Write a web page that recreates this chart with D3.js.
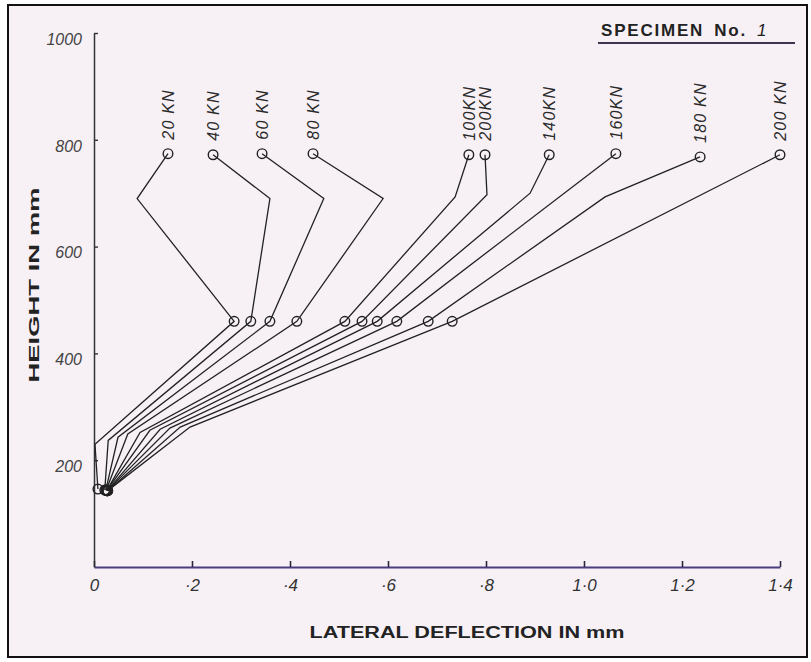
<!DOCTYPE html>
<html lang="en">
<head>
  <meta charset="UTF-8">
  <title>Specimen No. 1 - lateral deflection</title>
  <script src="https://d3js.org/d3.v7.min.js"></script>
  <style>
    body { margin: 0; background: #fff; }
    text { font-family: "Liberation Sans", Arial, sans-serif; }
  </style>
</head>
<body>
  <svg id="chart"></svg>
  <script>
    // load labels as written on the sheet (the 6th one really reads "200KN")
    const loads = ["20 KN", "40 KN", "60 KN", "80 KN", "100KN", "200KN", "140KN", "160KN", "180 KN", "200 KN"];

    // each profile: [deflection mm, height mm] from the base gauge up to the top gauge
    const profiles = [
      [[0.008, 146], [0.002, 230], [0.286, 460], [0.088, 690], [0.151, 774]],
      [[0.022, 144], [0.029, 237], [0.320, 460], [0.359, 690], [0.243, 772]],
      [[0.024, 144], [0.049, 243], [0.359, 460], [0.469, 690], [0.343, 774]],
      [[0.025, 144], [0.069, 249], [0.414, 460], [0.590, 690], [0.447, 774]],
      [[0.026, 143], [0.094, 252], [0.512, 460], [0.737, 693], [0.765, 772]],
      [[0.026, 143], [0.114, 256], [0.547, 460], [0.802, 697], [0.798, 772]],
      [[0.027, 143], [0.135, 258], [0.578, 460], [0.890, 700], [0.929, 772]],
      [[0.027, 143], [0.155, 260], [0.618, 460], [1.065, 774]],
      [[0.028, 143], [0.176, 262], [0.682, 460], [1.043, 693], [1.237, 768]],
      [[0.028, 143], [0.196, 262], [0.731, 460], [1.400, 772]]
    ];

    // the gauge readings drawn with a circle: base, mid-height, top
    const gaugeHeights = [143, 144, 146, 460, 768, 772, 774];

    const xTicks = [0, 0.2, 0.4, 0.6, 0.8, 1.0, 1.2, 1.4];
    const xTickLabels = ["0", "·2", "·4", "·6", "·8", "1·0", "1·2", "1·4"];
    const yTicks = [200, 400, 600, 800, 1000];
    const yTickLabels = ["200", "400", "600", "800", "1000"];

    const width = 811, height = 662;

    const svg = d3.select("#chart")
      .attr("width", width)
      .attr("height", height);

    // paper + frame
    svg.append("rect")
      .attr("x", 8).attr("y", 5)
      .attr("width", 799).attr("height", 652)
      .attr("fill", "#f7f1f6")
      .attr("stroke", "#111")
      .attr("stroke-width", 2);

    const x = d3.scaleLinear().domain([0, 1.4]).range([94, 780]);
    const y = d3.scaleLinear().domain([0, 1000]).range([567, 33]);

    const xAxis = d3.axisBottom(x)
      .tickValues(xTicks)
      .tickFormat((d, i) => xTickLabels[i])
      .tickSizeInner(-6)
      .tickSizeOuter(0)
      .tickPadding(12);

    const yAxis = d3.axisLeft(y)
      .tickValues(yTicks)
      .tickFormat((d, i) => yTickLabels[i])
      .tickSizeInner(-4)
      .tickSizeOuter(0)
      .tickPadding(12);

    const gx = svg.append("g")
      .attr("transform", `translate(0,${y(0)})`)
      .call(xAxis);
    gx.select(".domain").attr("stroke", "#4a3d7e").attr("stroke-width", 2);
    gx.selectAll(".tick line").attr("stroke", "#2c2640").attr("stroke-width", 1.6);
    gx.selectAll(".tick text")
      .attr("font-size", 17)
      .attr("font-style", "italic")
      .attr("fill", "#333");

    const gy = svg.append("g")
      .attr("transform", `translate(${x(0)},0)`)
      .call(yAxis);
    gy.select(".domain").attr("stroke", "#333").attr("stroke-width", 1.5);
    gy.selectAll(".tick line").attr("stroke", "#333").attr("stroke-width", 1.4);
    gy.selectAll(".tick text")
      .attr("font-size", 16)
      .attr("font-style", "italic")
      .attr("fill", "#444")
      .attr("dy", "0.7em");

    // profiles
    const line = d3.line().x(d => x(d[0])).y(d => y(d[1]));

    svg.append("g")
      .selectAll("path")
      .data(profiles)
      .join("path")
      .attr("d", line)
      .attr("fill", "none")
      .attr("stroke", "#222")
      .attr("stroke-width", 1.3);

    const gauges = profiles.flatMap(p => p.filter(d => gaugeHeights.includes(d[1])));

    svg.append("g")
      .selectAll("circle")
      .data(gauges)
      .join("circle")
      .attr("cx", d => x(d[0]))
      .attr("cy", d => y(d[1]))
      .attr("r", 4.8)
      .attr("fill", "none")
      .attr("stroke", "#222")
      .attr("stroke-width", 1.4);

    // load labels, written upwards above the top gauge
    svg.append("g")
      .selectAll("text")
      .data(profiles)
      .join("text")
      .attr("transform", d => {
        const top = d[d.length - 1];
        return `translate(${x(top[0]) + 6},${y(top[1]) - 14}) rotate(-90)`;
      })
      .attr("font-size", 16)
      .attr("font-style", "italic")
      .attr("letter-spacing", 1.2)
      .attr("fill", "#2a2a2a")
      .text((d, i) => loads[i]);

    // axis titles
    svg.append("text")
      .attr("x", 467).attr("y", 638)
      .attr("text-anchor", "middle")
      .attr("font-family", "DejaVu Sans")
      .attr("font-weight", "bold")
      .attr("font-size", 16)
      .attr("textLength", 315)
      .attr("lengthAdjust", "spacingAndGlyphs")
      .attr("fill", "#222")
      .text("LATERAL DEFLECTION IN mm");

    svg.append("text")
      .attr("transform", "translate(39,285) rotate(-90)")
      .attr("text-anchor", "middle")
      .attr("font-family", "DejaVu Sans")
      .attr("font-weight", "bold")
      .attr("font-size", 15)
      .attr("textLength", 195)
      .attr("lengthAdjust", "spacingAndGlyphs")
      .attr("fill", "#222")
      .text("HEIGHT IN mm");

    // specimen title
    const title = svg.append("text")
      .attr("x", 601).attr("y", 36)
      .attr("font-family", "DejaVu Sans")
      .attr("font-weight", "bold")
      .attr("font-size", 17)
      .attr("letter-spacing", 1.8)
      .attr("fill", "#222");
    title.append("tspan").text("SPECIMEN");
    title.append("tspan").attr("dx", 10).text("No.");
    title.append("tspan")
      .attr("dx", 10)
      .attr("font-weight", "normal")
      .attr("font-style", "italic")
      .text("1");

    svg.append("line")
      .attr("x1", 598).attr("x2", 795)
      .attr("y1", 43).attr("y2", 43)
      .attr("stroke", "#3d3550")
      .attr("stroke-width", 2);
  </script>
</body>
</html>
